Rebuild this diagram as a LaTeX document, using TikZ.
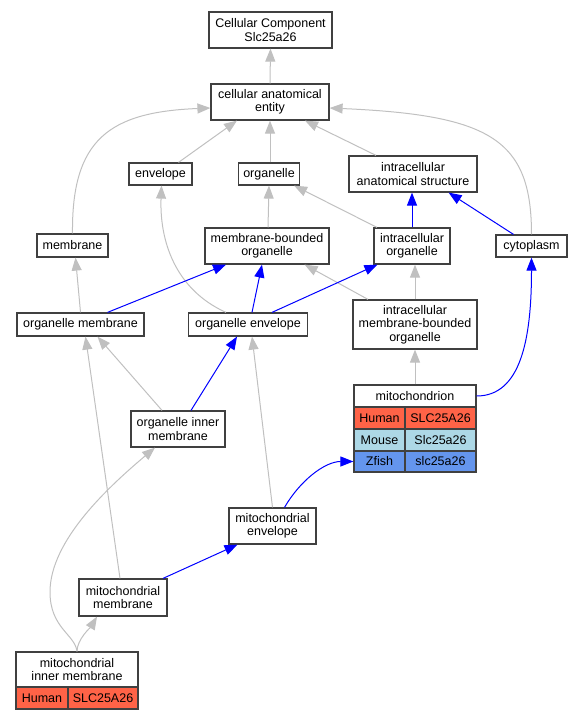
\documentclass[tikz,border=0pt]{standalone}
\usepackage{fontspec}
\setmainfont{Liberation Sans}
\usetikzlibrary{arrows.meta,calc}
\definecolor{edgegray}{HTML}{C0C0C0}
\definecolor{boxborder}{HTML}{404040}
\definecolor{human}{HTML}{FF6347}
\definecolor{mouse}{HTML}{ADD8E6}
\definecolor{zfish}{HTML}{6495ED}
\begin{document}
\begin{tikzpicture}[x=1pt,y=-1pt,
  font=\fontsize{12.5}{13.3}\selectfont,
  box/.style={draw=boxborder, line width=1.2pt, fill=white, inner sep=0pt, align=center},
  cell/.style={box, minimum height=22pt},
  gr/.style={draw=edgegray, line width=1pt, -{Triangle[length=13pt,width=10pt]}},
  bl/.style={draw=blue, line width=1pt, -{Triangle[length=13pt,width=10pt]}}]
\useasboundingbox (0,0) rectangle (581,720);

% nodes
\node[box, minimum width=123pt, minimum height=36pt] (cc) at (270.5,30) {Cellular Component\\Slc25a26};
\node[box, minimum width=118pt, minimum height=36pt] (cae) at (270,102) {cellular anatomical\\entity};
\node[box, minimum width=63pt, minimum height=22pt] (env) at (160.5,174) {envelope};
\node[box, minimum width=61pt, minimum height=22pt] (org) at (269,174) {organelle};
\node[box, minimum width=128pt, minimum height=36pt] (ias) at (413,174) {intracellular\\anatomical structure};
\node[box, minimum width=71pt, minimum height=23pt] (mem) at (72.5,245.5) {membrane};
\node[box, minimum width=124pt, minimum height=36pt] (mbo) at (267,246) {membrane-bounded\\organelle};
\node[box, minimum width=76pt, minimum height=36pt] (io) at (412,246) {intracellular\\organelle};
\node[box, minimum width=71pt, minimum height=22pt] (cyt) at (531.5,246) {cytoplasm};
\node[box, minimum width=127pt, minimum height=23pt] (om) at (80.5,324.5) {organelle membrane};
\node[box, minimum width=119pt, minimum height=23pt] (oe) at (248,324.5) {organelle envelope};
\node[box, minimum width=124pt, minimum height=49pt] (imbo) at (415,324.5) {intracellular\\membrane-bounded\\organelle};
\node[box, minimum width=94pt, minimum height=36pt] (oim) at (178,429) {organelle inner\\membrane};
\node[box, minimum width=87pt, minimum height=36pt] (me) at (272.5,526) {mitochondrial\\envelope};
\node[box, minimum width=88pt, minimum height=37pt] (mm) at (123,597.5) {mitochondrial\\membrane};

% mitochondrion table
\node[cell, minimum width=122pt] (mitoH) at (415,396) {mitochondrion};
\node[cell, fill=human, minimum width=51pt] (mitoA1) at (379.5,418) {Human};
\node[cell, fill=human, minimum width=71pt] (mitoA2) at (440.5,418) {SLC25A26};
\node[cell, fill=mouse, minimum width=51pt] (mitoB1) at (379.5,440) {Mouse};
\node[cell, fill=mouse, minimum width=71pt] (mitoB2) at (440.5,440) {Slc25a26};
\node[cell, fill=zfish, minimum width=51pt, minimum height=21pt] (mitoZ1) at (379.5,461.5) {Zfish};
\node[cell, fill=zfish, minimum width=71pt, minimum height=21pt] (mitoZ2) at (440.5,461.5) {slc25a26};

% mitochondrial inner membrane table
\node[box, minimum width=122pt, minimum height=35pt] (mimH) at (77,669.5) {mitochondrial\\inner membrane};
\node[cell, fill=human, minimum width=52pt] (mimA1) at (42,698) {Human};
\node[cell, fill=human, minimum width=70pt] (mimA2) at (103,698) {SLC25A26};

% gray edges
\draw[gr] (cae.north) -- (cc.south);
\draw[gr] ($(env.north)+(18,0)$) -- ($(cae.south)+(-33,0)$);
\draw[gr] (cae.south |- org.north) -- (cae.south);
\draw[gr] ($(ias.north)+(-37,0)$) -- ($(cae.south)+(35,0)$);
\draw[gr] (mem.north) .. controls ($(mem.north)+(-1,-94)$) and ($(cae.west)+(-101,10)$) .. ($(cae.west)+(0,6)$);
\draw[gr] (cyt.north) .. controls ($(cyt.north)+(0,-95)$) and ($(cae.east)+(161,13)$) .. ($(cae.east)+(0,6)$);
\draw[gr] ($(mbo.north)+(1,0)$) -- (org.south);
\draw[gr] ($(io.north)+(-35,0)$) -- ($(org.south east)+(-6,0)$);
\draw[gr] ($(oe.north)+(-22,0)$) .. controls ($(oe.north)+(-73,-23)$) and ($(env.south)+(-1,55)$) .. ($(env.south)+(1,0)$);
\draw[gr] (om.north) -- ($(mem.south)+(3,0)$);
\draw[gr] ($(imbo.north)+(-47,0)$) -- ($(mbo.south east)+(-25,0)$);
\draw[gr] (imbo.north) -- (imbo.north |- io.south);
\draw[gr] (mitoH.north) -- (mitoH.north |- imbo.south);
\draw[gr] ($(oim.north)+(-16,0)$) -- ($(om.south)+(17,0)$);
\draw[gr] ($(mm.north)+(-3,0)$) -- ($(om.south)+(5,0)$);
\draw[gr] (me.north) -- ($(oe.south)+(4,0)$);
\draw[gr] (mimH.north) .. controls ($(mimH.north)+(0,-12)$) and ($(mm.south)+(-32,10)$) .. ($(mm.south)+(-26,0)$);
\coordinate (bend) at (50,592);
\draw[gr] (mimH.north) .. controls ($(mimH.north)+(-2,-17)$) and ($(bend)+(0,36)$) .. (bend)
  .. controls ($(bend)+(0,-52)$) and ($(oim.south)+(-68,38)$) .. ($(oim.south)+(-23,0)$);

% blue edges
\draw[bl] (io.north) -- (io.north |- ias.south);
\draw[bl] ($(cyt.north)+(-18,0)$) -- ($(ias.south east)+(-29,0)$);
\draw[bl] ($(om.north)+(27,0)$) -- ($(mbo.south)+(-41,0)$);
\draw[bl] ($(oe.north)+(4,0)$) -- ($(mbo.south)+(-5,0)$);
\draw[bl] ($(oe.north)+(24,0)$) -- ($(io.south west)+(4,0)$);
\draw[bl] (mitoH.east) .. controls ($(mitoH.east)+(44,0)$) and ($(cyt.south)+(0,82)$) .. (cyt.south);
\draw[bl] ($(oim.north)+(13,0)$) -- ($(oe.south)+(-11,0)$);
\draw[bl] ($(me.north)+(12,0)$) .. controls ($(me.north)+(27,-26)$) and ($(mitoZ1.west)+(-29,0)$) .. (mitoZ1.west);
\draw[bl] ($(mm.north)+(40,0)$) -- ($(me.south)+(-35,0)$);
\end{tikzpicture}
\end{document}
